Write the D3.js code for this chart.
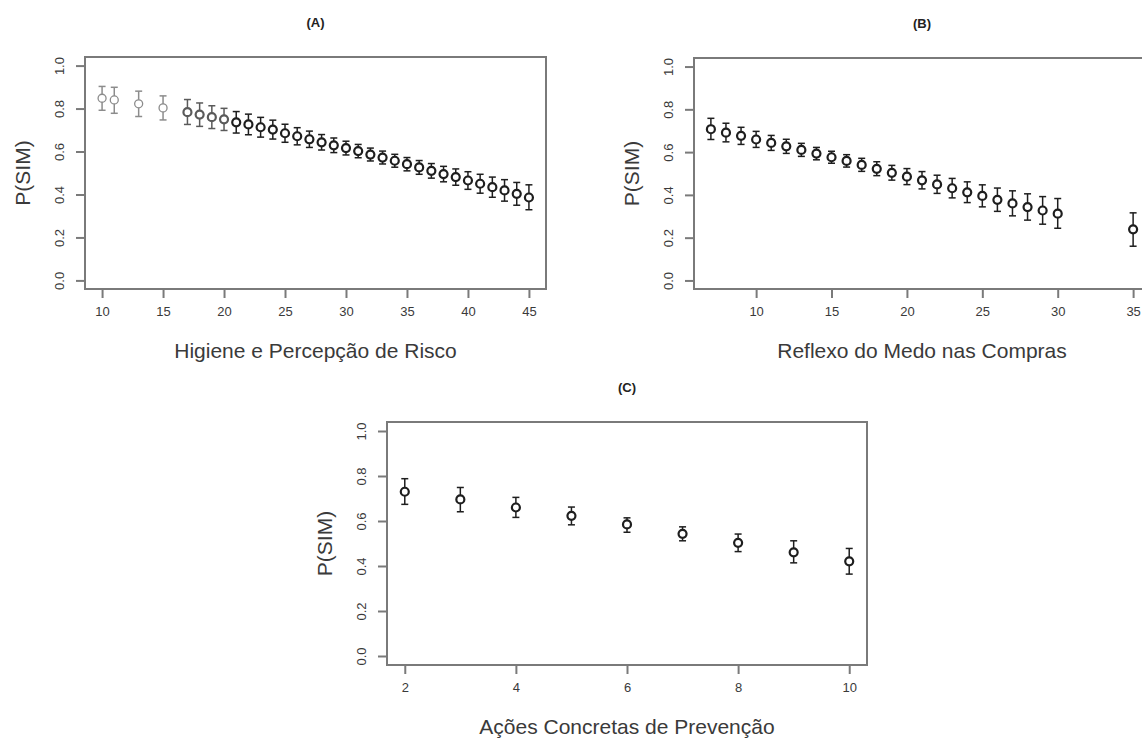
<!DOCTYPE html>
<meta charset="utf-8">
<script src="https://d3js.org/d3.v7.min.js"></script>
<style>
  body { margin: 0; background: #fff; }
  text { font-family: "Liberation Sans", Arial, sans-serif; }
</style>
<div id="vis"></div>
<script>

// ---- data ----
var xA = [10, 11, 13, 15, 17, 18, 19, 20, 21, 22, 23, 24, 25, 26, 27, 28, 29, 30, 31, 32, 33, 34, 35, 36, 37, 38, 39, 40, 41, 42, 43, 44, 45];
var pA = [0.848, 0.840, 0.822, 0.803, 0.783, 0.772, 0.760, 0.750, 0.736, 0.726, 0.713, 0.702, 0.685, 0.671, 0.657, 0.643, 0.629,
          0.616, 0.602, 0.586, 0.572, 0.557, 0.541, 0.526, 0.510, 0.495, 0.481, 0.465, 0.450, 0.434, 0.419, 0.403, 0.386];
var loA = [0.792, 0.778, 0.763, 0.747, 0.726, 0.717, 0.707, 0.698, 0.686, 0.678, 0.667, 0.658, 0.643, 0.631, 0.619, 0.607, 0.595,
           0.584, 0.571, 0.556, 0.542, 0.527, 0.510, 0.494, 0.476, 0.459, 0.443, 0.424, 0.406, 0.387, 0.369, 0.350, 0.329];
var hiA = [0.903, 0.899, 0.881, 0.859, 0.842, 0.826, 0.813, 0.801, 0.786, 0.774, 0.759, 0.746, 0.727, 0.711, 0.695, 0.679, 0.663,
           0.648, 0.633, 0.616, 0.602, 0.587, 0.572, 0.558, 0.544, 0.531, 0.519, 0.506, 0.494, 0.481, 0.469, 0.456, 0.445];
var ticksA = [10, 15, 20, 25, 30, 35, 40, 45];

var xB = [7, 8, 9, 10, 11, 12, 13, 14, 15, 16, 17, 18, 19, 20, 21, 22, 23, 24, 25, 26, 27, 28, 29, 30, 35];
var pB = [0.707, 0.691, 0.676, 0.659, 0.643, 0.627, 0.610, 0.593, 0.576, 0.559, 0.540, 0.522, 0.503, 0.485, 0.468, 0.449,
          0.431, 0.412, 0.395, 0.377, 0.360, 0.343, 0.327, 0.312, 0.239];
var loB = [0.659, 0.648, 0.636, 0.622, 0.608, 0.594, 0.580, 0.564, 0.548, 0.530, 0.510, 0.490, 0.469, 0.448, 0.428, 0.407,
           0.386, 0.364, 0.344, 0.323, 0.302, 0.282, 0.263, 0.244, 0.160];
var hiB = [0.758, 0.735, 0.716, 0.697, 0.678, 0.660, 0.641, 0.622, 0.604, 0.588, 0.571, 0.555, 0.538, 0.523, 0.509, 0.492,
           0.477, 0.461, 0.447, 0.432, 0.419, 0.405, 0.392, 0.383, 0.316];
var ticksB = [10, 15, 20, 25, 30, 35];

var xC = [2, 3, 4, 5, 6, 7, 8, 9, 10];
var pC = [0.730, 0.696, 0.660, 0.623, 0.585, 0.543, 0.503, 0.461, 0.421];
var loC = [0.674, 0.641, 0.616, 0.583, 0.550, 0.512, 0.464, 0.414, 0.364];
var hiC = [0.788, 0.749, 0.705, 0.662, 0.614, 0.574, 0.542, 0.512, 0.478];
var ticksC = [2, 4, 6, 8, 10];

var yTicks = [0, 0.2, 0.4, 0.6, 0.8, 1.0];

var W = 1142, H = 740;
var svg = d3.select("#vis").append("svg")
    .attr("width", W).attr("height", H)
    .style("display", "block");
svg.append("rect").attr("width", W).attr("height", H).attr("fill", "#fff");

var panels = [
    { title: "(A)", xlab: "Higiene e Percepção de Risco", xs: xA, p: pA, lo: loA, hi: hiA, ticks: ticksA,
      left: 85, right: 546, top: 57, bottom: 289 },
    { title: "(B)", xlab: "Reflexo do Medo nas Compras", xs: xB, p: pB, lo: loB, hi: hiB, ticks: ticksB,
      left: 694, right: 1150, top: 58, bottom: 289 },
    { title: "(C)", xlab: "Ações Concretas de Prevenção", xs: xC, p: pC, lo: loC, hi: hiC, ticks: ticksC,
      left: 387, right: 867, top: 422, bottom: 665 }
];

var axisCol = "#7a7a7a", textCol = "#3a3a3a";

panels.forEach(function (P, k) {
    // R style 4% range extension
    var ext = d3.extent(P.xs), pad = (ext[1] - ext[0]) * 0.04;
    var x = d3.scaleLinear().domain([ext[0] - pad, ext[1] + pad]).range([P.left, P.right]);
    var y = d3.scaleLinear().domain([-0.04, 1.04]).range([P.bottom, P.top]);

    var g = svg.append("g");

    // x axis
    var gx = g.append("g")
        .attr("transform", "translate(0," + P.bottom + ")")
        .call(d3.axisBottom(x).tickValues(P.ticks).tickSize(9).tickPadding(9).tickFormat(d3.format("d")));
    gx.select(".domain").remove();
    gx.selectAll("line").attr("stroke", axisCol).attr("stroke-width", 2);
    gx.selectAll("text").style("font-size", "13px").attr("fill", textCol);

    // y axis, labels parallel to the axis
    var gy = g.append("g")
        .attr("transform", "translate(" + P.left + ",0)")
        .call(d3.axisLeft(y).tickValues(yTicks).tickSize(9).tickFormat(d3.format(".1f")));
    gy.select(".domain").remove();
    gy.selectAll("line").attr("stroke", axisCol).attr("stroke-width", 2);
    gy.selectAll("text")
        .attr("transform", "rotate(-90)")
        .attr("x", 0).attr("y", -21).attr("dy", 0)
        .style("text-anchor", "middle")
        .style("font-size", "13px").attr("fill", textCol);

    // frame
    g.append("rect")
        .attr("x", P.left).attr("y", P.top)
        .attr("width", P.right - P.left).attr("height", P.bottom - P.top)
        .attr("fill", "none").attr("stroke", axisCol).attr("stroke-width", 2);

    // titles
    g.append("text")
        .attr("x", (P.left + P.right) / 2).attr("y", P.top - 30)
        .attr("text-anchor", "middle")
        .style("font-size", "13px").style("font-weight", "bold").attr("fill", "#222")
        .text(P.title);
    g.append("text")
        .attr("x", (P.left + P.right) / 2).attr("y", P.bottom + 69)
        .attr("text-anchor", "middle")
        .style("font-size", "21px").attr("fill", textCol)
        .text(P.xlab);
    g.append("text")
        .attr("transform", "translate(" + (P.left - 55) + "," + ((P.top + P.bottom) / 2) + ") rotate(-90)")
        .attr("text-anchor", "middle")
        .style("font-size", "21px").attr("fill", textCol)
        .text("P(SIM)");

    var rows = P.xs.map(function (v, i) { return { x: v, p: P.p[i], lo: P.lo[i], hi: P.hi[i] }; });
    // panel A: the first points are drawn lighter
    var col = function (d) {
        if (k === 0 && d.x <= 15) return "#8c8c8c";
        if (k === 0 && d.x <= 20) return "#5a5a5a";
        return "#1e1e1e";
    };

    var pts = g.selectAll(".pt").data(rows).enter().append("g").attr("class", "pt");
    pts.append("line")
        .attr("x1", function (d) { return x(d.x); }).attr("x2", function (d) { return x(d.x); })
        .attr("y1", function (d) { return y(d.lo); }).attr("y2", function (d) { return y(d.hi); })
        .attr("stroke", col).attr("stroke-width", 1.5);
    ["lo", "hi"].forEach(function (key) {
        pts.append("line")
            .attr("x1", function (d) { return x(d.x) - 3.5; }).attr("x2", function (d) { return x(d.x) + 3.5; })
            .attr("y1", function (d) { return y(d[key]); }).attr("y2", function (d) { return y(d[key]); })
            .attr("stroke", col).attr("stroke-width", 1.5);
    });
    pts.append("circle")
        .attr("cx", function (d) { return x(d.x); })
        .attr("cy", function (d) { return y(d.p); })
        .attr("r", 4)
        .attr("fill", "#fff")
        .attr("stroke", col)
        .attr("stroke-width", function (d) { return (k === 0 && d.x <= 15) ? 1.3 : 2.2; });
});

</script>
